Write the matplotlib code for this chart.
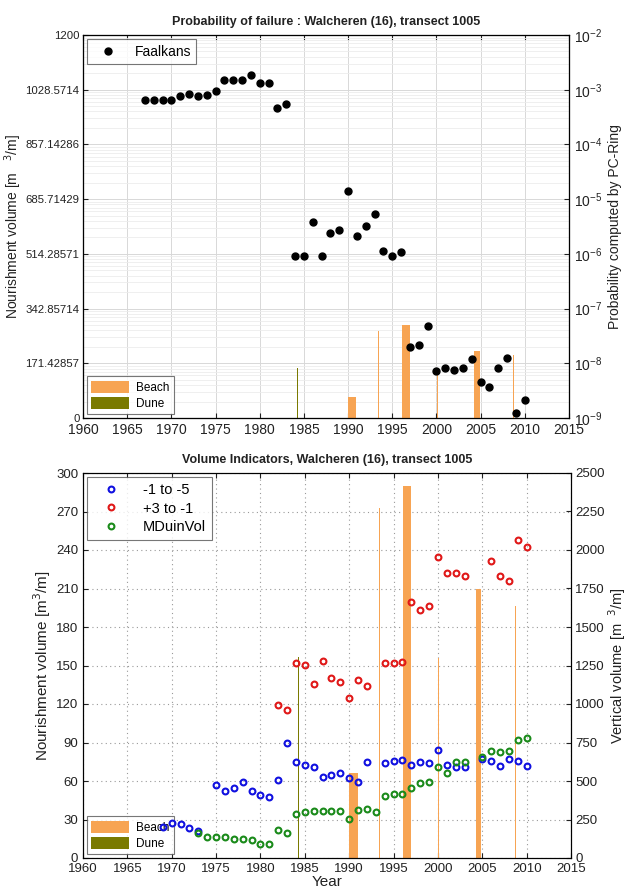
import numpy as np
import matplotlib
matplotlib.use('Agg')
import matplotlib.pyplot as plt
from matplotlib.patches import Patch
from matplotlib.ticker import FuncFormatter, MultipleLocator, LogLocator, NullFormatter

plt.rcParams['font.family'] = ['Liberation Sans', 'DejaVu Sans']
plt.rcParams['axes.linewidth'] = 0.8

# ---------------- data ----------------
# nourishments (start year, duration in years, volume m3/m, type)
nour_start = [1984.2, 1990.0, 1993.4, 1996.05, 2000.05, 2004.3, 2008.7]
nour_duration = [0.1, 0.95, 0.1, 0.9, 0.1, 0.6, 0.1]
nour_volume = [157, 66, 273, 290, 156, 210, 196]
nour_type = ['Dune', 'Beach', 'Beach', 'Beach', 'Beach', 'Beach', 'Beach']

# probability of failure (Faalkans)
prob_years = list(range(1967, 2011))
prob_values = [6.46e-4, 6.46e-4, 6.46e-4, 6.46e-4, 7.59e-4, 8.32e-4, 7.59e-4, 8.13e-4,
               9.33e-4, 1.48e-3, 1.48e-3, 1.48e-3, 1.86e-3, 1.32e-3, 1.32e-3, 4.57e-4,
               5.37e-4, 9.33e-7, 9.33e-7, 3.80e-6, 9.12e-7, 2.45e-6, 2.69e-6, 1.38e-5,
               2.14e-6, 3.24e-6, 5.25e-6, 1.12e-6, 9.33e-7, 1.07e-6, 2.00e-8, 2.19e-8,
               4.90e-8, 7.24e-9, 8.13e-9, 7.41e-9, 8.32e-9, 1.20e-8, 4.47e-9, 3.63e-9,
               8.13e-9, 1.26e-8, 1.23e-9, 2.09e-9]

# volume indicators (vertical volume, m3/m)
m1m5_years = [1969, 1970, 1971, 1972, 1973, 1975, 1976, 1977, 1978, 1979, 1980, 1981,
              1982, 1983, 1984, 1985, 1986, 1987, 1988, 1989, 1990, 1991, 1992, 1994,
              1995, 1996, 1997, 1998, 1999, 2000, 2001, 2002, 2003, 2005, 2006, 2007,
              2008, 2009, 2010]
m1m5_values = [203, 229, 218, 197, 178, 472, 435, 454, 493, 435, 407, 396,
               504, 745, 623, 604, 588, 528, 537, 554, 519, 493, 623, 619,
               630, 634, 602, 621, 619, 702, 602, 591, 593, 643, 632, 599,
               641, 632, 595]

p3m1_years = [1982, 1983, 1984, 1985, 1986, 1987, 1988, 1989, 1990, 1991, 1992, 1994,
              1995, 1996, 1997, 1998, 1999, 2000, 2001, 2002, 2003, 2006, 2007, 2008,
              2009, 2010]
p3m1_values = [993, 963, 1269, 1253, 1129, 1280, 1170, 1144, 1039, 1157, 1116, 1266,
               1266, 1275, 1660, 1608, 1638, 1955, 1850, 1850, 1832, 1928, 1829, 1799,
               2065, 2021]

duin_years = [1973, 1974, 1975, 1976, 1977, 1978, 1979, 1980, 1981, 1982, 1983, 1984,
              1985, 1986, 1987, 1988, 1989, 1990, 1991, 1992, 1993, 1994, 1995, 1996,
              1997, 1998, 1999, 2000, 2001, 2002, 2003, 2005, 2006, 2007, 2008, 2009,
              2010]
duin_values = [160, 137, 134, 134, 121, 121, 119, 91, 91, 184, 163, 286,
               298, 305, 308, 308, 303, 255, 314, 320, 301, 403, 413, 416,
               457, 485, 496, 588, 550, 626, 623, 653, 697, 686, 693, 768,
               777]

# ---------------- styles ----------------
type_colors = {'Beach': '#F7A453', 'Dune': '#7A7A00'}
text_color = '#222222'
W, H = 627, 890
fig = plt.figure(figsize=(W / 100, H / 100), dpi=100)


def rect(x0, y0, x1, y1):
    return [x0 / W, 1 - y1 / H, (x1 - x0) / W, (y1 - y0) / H]


bar_colors = [type_colors[t] for t in nour_type]

# ================= top panel =================
ax_grid = fig.add_axes(rect(83, 35, 569, 418))
ax_bar = ax_grid.twinx()
ax_pts = ax_grid.twinx()

ax_grid.set_yscale('log')
ax_grid.set_ylim(1e-9, 1e-2)
ax_grid.set_xlim(1960, 2015)
ax_grid.xaxis.set_major_locator(MultipleLocator(5))
ax_grid.yaxis.set_major_locator(LogLocator(base=10, numticks=12))
ax_grid.yaxis.set_minor_locator(LogLocator(base=10, subs=np.arange(2, 10), numticks=12))
ax_grid.yaxis.set_minor_formatter(NullFormatter())
ax_grid.grid(True, which='major', axis='both', color='#d8d8d8', lw=0.7)
ax_grid.grid(True, which='minor', axis='y', color='#ececec', lw=0.6)
ax_grid.yaxis.tick_right()
ax_grid.yaxis.set_label_position('right')
ax_grid.tick_params(axis='y', which='both', direction='in', right=True, left=False,
                    labelright=True, labelleft=False, labelsize=10, colors=text_color)
ax_grid.tick_params(axis='y', which='minor', length=0)
ax_grid.tick_params(axis='x', direction='in', top=True, labelsize=10, colors=text_color)
ax_grid.set_ylabel('Probability computed by PC-Ring', fontsize=10, color=text_color,
                   labelpad=4)
for s in ax_grid.spines.values():
    s.set_color('#555555')

ax_bar.bar(nour_start, nour_volume, width=nour_duration, align='edge',
           color=bar_colors, linewidth=0)
ax_bar.set_ylim(0, 1200)
ax_bar.set_yticks(np.linspace(0, 1200, 8))
ax_bar.yaxis.set_major_formatter(FuncFormatter(lambda v, p: f'{v:.8g}'))
ax_bar.yaxis.tick_left()
ax_bar.yaxis.set_label_position('left')
ax_bar.tick_params(axis='y', direction='in', left=True, right=False, labelleft=True,
                   labelright=False, labelsize=8.2, pad=2.5, colors=text_color)
ax_bar.set_ylabel('Nourishment volume [m   $^{3}$/m]', fontsize=10, color=text_color,
                  labelpad=1)
ax_bar.set_xlim(1960, 2015)

ax_pts.set_yscale('log')
ax_pts.set_ylim(1e-9, 1e-2)
ax_pts.plot(prob_years, prob_values, 'o', color='black', ms=5, label='Faalkans')
ax_pts.yaxis.set_visible(False)
ax_pts.set_xlim(1960, 2015)

leg1 = ax_pts.legend(loc='upper left', fontsize=10, frameon=True, fancybox=False,
                     edgecolor='#555555', borderaxespad=0.3, handletextpad=0.8,
                     borderpad=0.4, handlelength=2.2)
leg1.get_frame().set_linewidth(0.8)
beach_dune = [Patch(facecolor=type_colors['Beach'], label='Beach'),
              Patch(facecolor=type_colors['Dune'], label='Dune')]
leg2 = ax_bar.legend(handles=beach_dune, loc='lower left', fontsize=8.5, frameon=True,
                     fancybox=False, edgecolor='#555555', borderaxespad=0.3,
                     handlelength=3.2, handleheight=1.2, labelspacing=0.25,
                     borderpad=0.4, handletextpad=0.6)
leg2.get_frame().set_linewidth(0.8)
ax_grid.set_title('Probability of failure : Walcheren (16), transect 1005',
                  fontsize=9, fontweight='bold', color=text_color, pad=7)

# ================= bottom panel =================
ax_b = fig.add_axes(rect(83, 473, 571, 858))
ax_bt = ax_b.twinx()
ax_b.set_axisbelow(True)
ax_b.bar(nour_start, nour_volume, width=nour_duration, align='edge',
         color=bar_colors, linewidth=0)
ax_b.set_xlim(1960, 2015)
ax_b.set_ylim(0, 300)
ax_b.xaxis.set_major_locator(MultipleLocator(5))
ax_b.yaxis.set_major_locator(MultipleLocator(30))
ax_b.grid(True, which='major', color='#9a9a9a', ls=(0, (1, 3)), lw=0.8)
ax_b.tick_params(axis='both', direction='in', top=True, labelsize=9.5, colors=text_color)
ax_b.tick_params(axis='y', right=False)
ax_b.set_ylabel('Nourishment volume [m$^{3}$/m]', fontsize=11, color=text_color,
                labelpad=2)
ax_b.set_xlabel('Year', fontsize=11, color=text_color, labelpad=0)
ax_b.set_title('Volume Indicators, Walcheren (16), transect 1005',
               fontsize=9, fontweight='bold', color=text_color, pad=7)

ax_bt.set_ylim(0, 2500)
ax_bt.yaxis.set_major_locator(MultipleLocator(250))
ax_bt.tick_params(axis='y', direction='in', labelsize=9.5, pad=3, colors=text_color)
ax_bt.set_ylabel('Vertical volume [m  $^{3}$/m]', fontsize=10.5, color=text_color,
                 labelpad=1)
mk = dict(ls='none', marker='o', mfc='none', ms=4.2, mew=1.5)
ax_bt.plot(m1m5_years, m1m5_values, color='#1010E0', label='-1 to -5', **mk)
ax_bt.plot(p3m1_years, p3m1_values, color='#E01818', label='+3 to -1', **mk)
ax_bt.plot(duin_years, duin_values, color='#1A8A1A', label='MDuinVol', **mk)

leg3 = ax_bt.legend(loc='upper left', fontsize=10.5, frameon=True, fancybox=False,
                    edgecolor='#555555', borderaxespad=0.3, handletextpad=1.0,
                    borderpad=0.4, handlelength=2.4, labelspacing=0.3)
leg3.get_frame().set_linewidth(0.8)
leg4 = ax_b.legend(handles=beach_dune, loc='lower left', fontsize=8.5, frameon=True,
                   fancybox=False, edgecolor='#555555', borderaxespad=0.3,
                   handlelength=3.2, handleheight=1.2, labelspacing=0.25,
                   borderpad=0.4, handletextpad=0.6)
leg4.get_frame().set_linewidth(0.8)

fig.savefig('out.png', dpi=100)
